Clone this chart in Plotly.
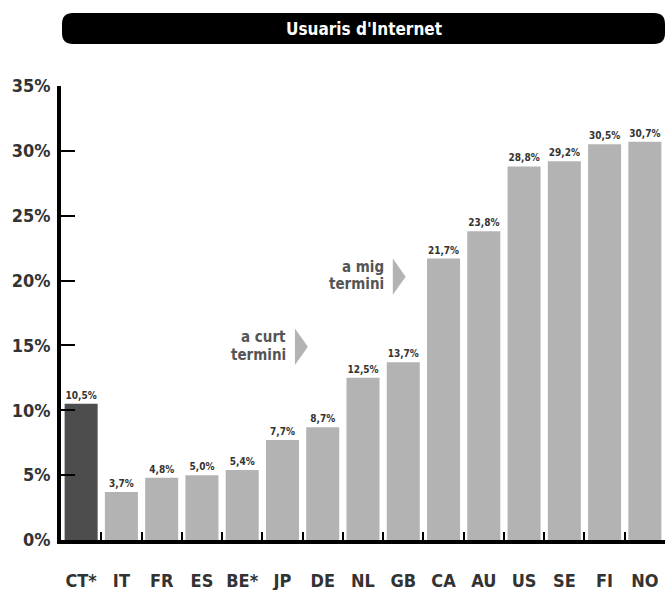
import plotly.graph_objects as go

countries = ["CT*", "IT", "FR", "ES", "BE*", "JP", "DE", "NL", "GB", "CA", "AU", "US", "SE", "FI", "NO"]
values = [10.5, 3.7, 4.8, 5.0, 5.4, 7.7, 8.7, 12.5, 13.7, 21.7, 23.8, 28.8, 29.2, 30.5, 30.7]
highlight = "CT*"
y_ticks = [0, 5, 10, 15, 20, 25, 30, 35]
y_tick_labels = [f"{v}%" for v in y_ticks]
title_text = "Usuaris d'Internet"
# (line1, line2, right edge x, line1 y, line2 y, arrow y tip)
notes = [("a curt", "termini", 5.14, 15.64, 14.28, 14.9),
         ("a mig", "termini", 7.57, 21.05, 19.72, 20.3)]

FONT = "Liberation Sans Narrow, DejaVu Sans Condensed, Arial Narrow, sans-serif"
DARK = "#4d4d4d"
LIGHT = "#b3b3b3"

labels = [f"{v:.1f}".replace(".", ",") + "%" for v in values]
colors = [DARK if c == highlight else LIGHT for c in countries]

fig = go.Figure(go.Bar(
    x=countries, y=values,
    marker=dict(color=colors, line=dict(width=0)),
    text=labels, textposition="outside", constraintext="none",
    textfont=dict(family=FONT, size=10, color="#333333", weight="bold"),
    cliponaxis=False, hoverinfo="skip",
))

W, H = 665, 590
L, R, T, B = 61, 0, 86, 50

fig.update_layout(
    width=W, height=H, autosize=False,
    margin=dict(l=L, r=R, t=T, b=B, pad=0, autoexpand=False),
    plot_bgcolor="white", paper_bgcolor="white",
    bargap=0.18, showlegend=False,
    font=dict(family=FONT),
)
fig.update_xaxes(
    range=[-0.5, len(countries) - 0.5], automargin=False, tickangle=0,
    showline=True, linewidth=4, linecolor="black",
    ticks="inside", tickson="boundaries", ticklen=8, tickwidth=2, tickcolor="black",
    tickfont=dict(family=FONT, size=18, color="#333333", weight="bold"),
    ticklabelstandoff=21, showgrid=False, zeroline=False,
)
fig.update_yaxes(
    range=[0, 35], tickvals=y_ticks, ticktext=y_tick_labels, automargin=False,
    showline=True, linewidth=4, linecolor="black",
    ticks="inside", ticklen=14, tickwidth=2, tickcolor="black",
    tickfont=dict(family=FONT, size=18, color="#333333", weight="bold"),
    ticklabelstandoff=3, showgrid=False, zeroline=False,
)

# title bar (rounded rectangle in paper coordinates)
pw, ph = W - L - R, H - T - B
def px_x(px):
    return (px - L) / pw
def px_y(py):
    return (H - B - py) / ph
x0, x1, y0, y1, r = 62, 665, 13, 44, 11
rx, ry = r / pw, r / ph
X0, X1, Yt, Yb = px_x(x0), px_x(x1), px_y(y0), px_y(y1)
path = (f"M {X0+rx},{Yt} L {X1-rx},{Yt} Q {X1},{Yt} {X1},{Yt-ry} L {X1},{Yb+ry} "
        f"Q {X1},{Yb} {X1-rx},{Yb} L {X0+rx},{Yb} Q {X0},{Yb} {X0},{Yb+ry} "
        f"L {X0},{Yt-ry} Q {X0},{Yt} {X0+rx},{Yt} Z")
fig.add_shape(type="path", path=path, xref="paper", yref="paper",
              fillcolor="black", line=dict(width=0), layer="above")
fig.add_annotation(x=(X0 + X1) / 2, y=(Yt + Yb) / 2, xref="paper", yref="paper",
                   text=title_text, showarrow=False, yanchor="middle",
                   font=dict(family=FONT, size=17, color="white", weight="bold"))

# "a curt / a mig termini" notes with arrow triangles
for t1, t2, xr, y1t, y2t, yc in notes:
    for t, yy in ((t1, y1t), (t2, y2t)):
        fig.add_annotation(x=xr, y=yy, xref="x", yref="y", text=t, showarrow=False,
                           xanchor="right", align="right", yanchor="middle",
                           font=dict(family=FONT, size=15, color="#555555", weight="bold"))
    ax0 = xr + 0.17
    ax1 = ax0 + 0.32
    fig.add_shape(type="path", xref="x", yref="y",
                  path=f"M {ax0},{yc+1.4} L {ax1},{yc} L {ax0},{yc-1.4} Z",
                  fillcolor=LIGHT, line=dict(width=0))

fig.write_html("out.html", config={"displayModeBar": False},
               post_script="document.body.style.margin='0px';")
